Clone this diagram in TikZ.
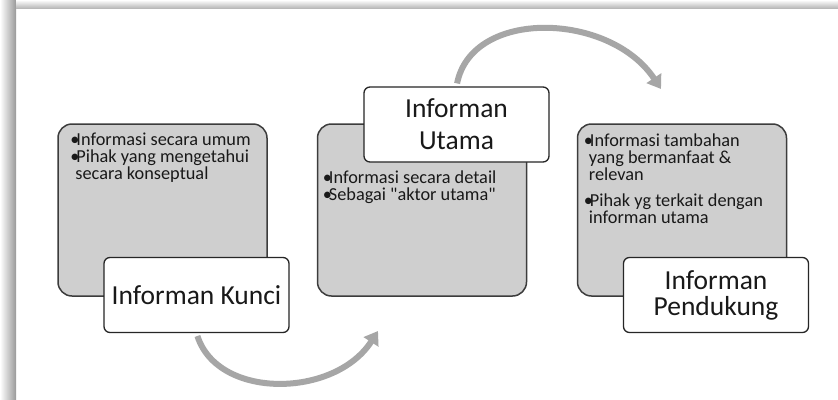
\documentclass[tikz,border=0pt]{standalone}
\usepackage{fontspec}
\setmainfont{Carlito}[Ligatures=TeXOff]
\usepackage{xcolor}
\usepackage{tikz}
\usetikzlibrary{arrows.meta,positioning}

\definecolor{boxgray}{RGB}{207,207,207}
\definecolor{edgegray}{RGB}{60,60,60}
\definecolor{flowgray}{RGB}{166,166,166}

\newcommand{\itm}{\makebox[6pt][l]{•}}
\newcommand{\cnt}{\hspace*{5pt}}

\tikzset{
    infobox/.style={
        draw=edgegray,
        line width=1.5pt,
        rounded corners=14pt,
        fill=boxgray,
        minimum width=209pt,
        minimum height=172pt,
        inner sep=0pt
    },
    titlebox/.style={
        draw=black!85,
        line width=1.3pt,
        rounded corners=6pt,
        fill=white,
        minimum width=185pt,
        minimum height=75pt,
        inner sep=0pt,
        align=center,
        text=black!90
    },
    bodytext/.style={
        align=left,
        inner sep=0pt,
        text=black!90,
        font=\fontsize{18.3}{17}\selectfont
    },
    flow/.style={
        draw=flowgray,
        line width=6pt,
        -{Triangle[length=13pt,width=17pt]}
    }
}

\begin{document}
\begin{tikzpicture}[x=1pt,y=-1pt]
                \useasboundingbox (0,0) rectangle (838,399);
                \fill[white] (0,0) rectangle (838,399);

                % frame shadow
                \shade[left color=white, right color=gray!80] (0,0) rectangle (16,399);
                \shade[top color=white, bottom color=gray!55] (16,0) rectangle (838,8);

                % the three gray boxes
                \node[infobox] (kunciBox) at (162.5,210) {};
                \node[infobox] (utamaBox) at (422,210) {};
                \node[infobox] (dukungBox) at (682,210) {};

                \node[bodytext, below right=9pt and 13pt of kunciBox.north west] (kunciTxt)
                    {\itm Informasi secara umum\\
                     \itm Pihak yang mengetahui\\
                     \cnt secara konseptual};

                \node[bodytext, below right=47pt and 6pt of utamaBox.north west] (utamaTxt)
                    {\itm Informasi secara detail\\
                     \itm Sebagai "aktor utama"};

                \node[bodytext, below right=10pt and 7pt of dukungBox.north west] (dukungTxt)
                    {\itm Informasi tambahan\\
                     \cnt yang bermanfaat \&\\
                     \cnt relevan\\[9pt]
                     \itm Pihak yg terkait dengan\\
                     \cnt informan utama};

                % title boxes
                \node[titlebox, font=\fontsize{27.5}{30}\selectfont] (kunci) at (196.5,295) {Informan Kunci};
                \node[titlebox, font=\fontsize{27.5}{32}\selectfont] (utama) at (456.5,124.5) {Informan\\Utama};
                \node[titlebox, font=\fontsize{27.5}{26}\selectfont] (dukung) at (716,295) {Informan\\Pendukung};

                % arrows
                \coordinate (kunciTip) at (378,331);
                \coordinate (utamaTip) at (661,89);
                \draw[flow, shorten <=3pt] (kunci.south) .. controls (218,400) and (335,398) .. (kunciTip);
                \draw[flow, shorten <=3pt] (utama.north) .. controls (472,8) and (610,12) .. (utamaTip);

\end{tikzpicture}
\end{document}
